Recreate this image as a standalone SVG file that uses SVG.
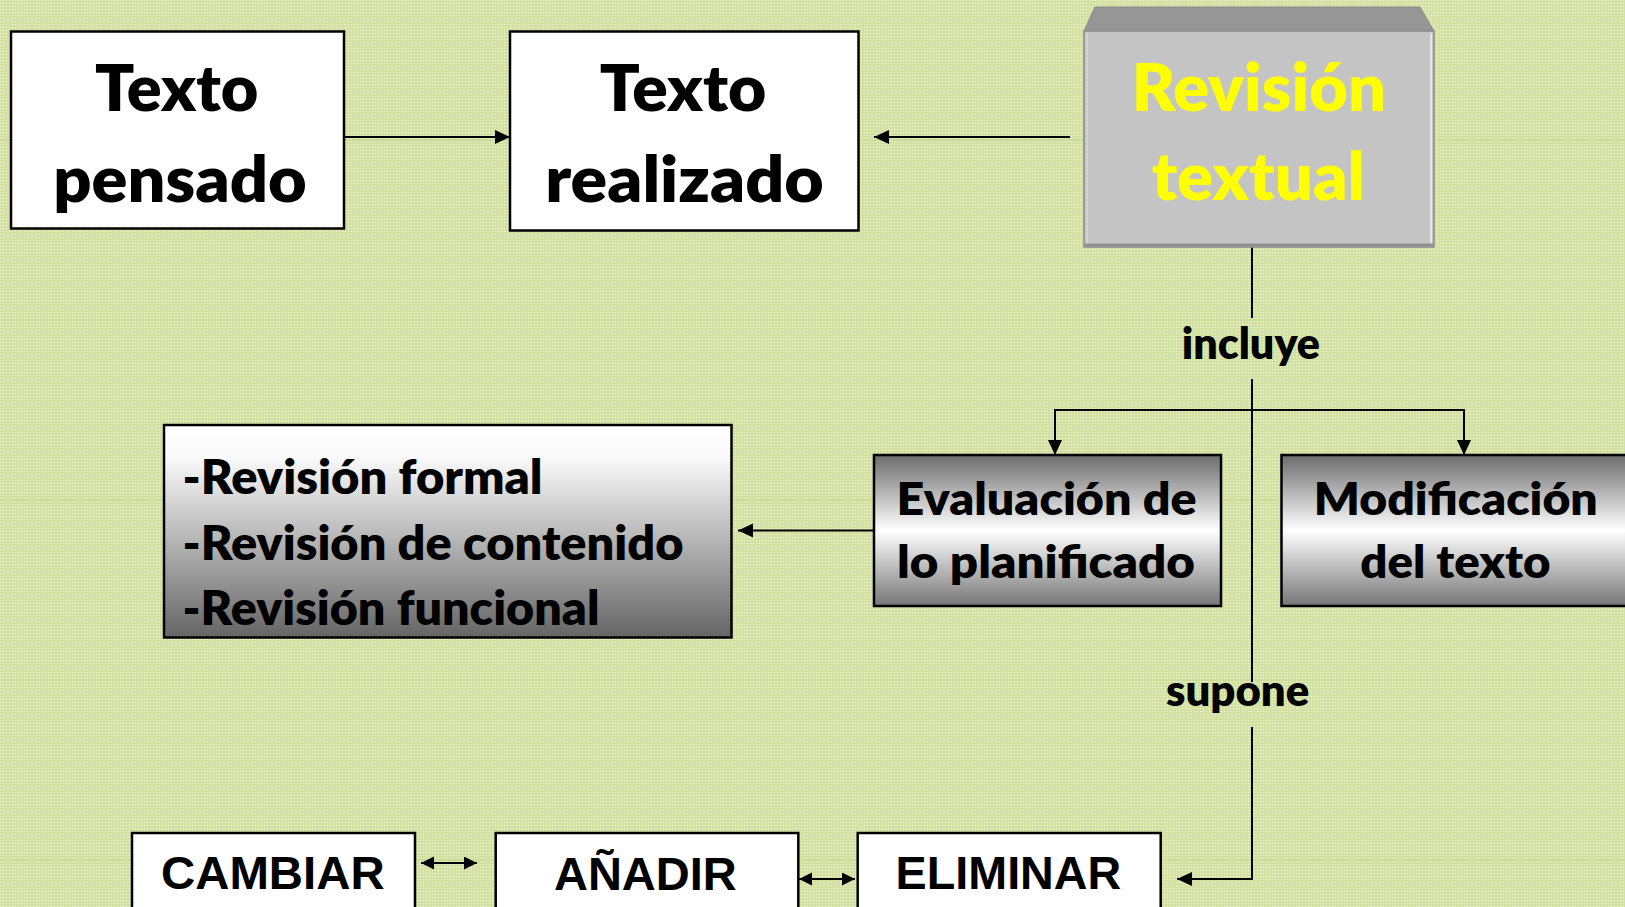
<svg xmlns="http://www.w3.org/2000/svg" width="1625" height="907" viewBox="0 0 1625 907">
<style>
.bx{fill:#ffffff;stroke:#000;stroke-width:2.5}
.t{font-family:Lato,"Open Sans",sans-serif;font-weight:800;fill:#000}
.ta{font-family:"Liberation Sans",Arial,sans-serif;font-weight:bold;fill:#000}
.c{fill:none;stroke:#000;stroke-width:2}
.bg-line{stroke:#c3d88c;stroke-width:1.2}
</style>
<defs>
<pattern id="dots" width="3" height="3" patternUnits="userSpaceOnUse">
<rect width="3" height="3" fill="#d3e1a3"/>
<rect width="1" height="1" fill="#f2f6e2"/>
</pattern>
<linearGradient id="gEval" x1="0" y1="0" x2="0" y2="1">
<stop offset="0" stop-color="#6c6c6c"/>
<stop offset="0.5" stop-color="#ffffff"/>
<stop offset="1" stop-color="#767676"/>
</linearGradient>
<linearGradient id="gList" x1="0" y1="0" x2="0" y2="1">
<stop offset="0" stop-color="#ffffff"/>
<stop offset="0.15" stop-color="#fafafa"/>
<stop offset="1" stop-color="#656565"/>
</linearGradient>
<marker id="ah" markerUnits="userSpaceOnUse" markerWidth="16" markerHeight="16" refX="15" refY="7" orient="auto">
<path d="M0,0 L15,7 L0,14 z" fill="#000"/>
</marker>
<marker id="ah2" markerUnits="userSpaceOnUse" markerWidth="14" markerHeight="14" refX="13" refY="6.5" orient="auto-start-reverse">
<path d="M0,0 L13,6.5 L0,13 z" fill="#000"/>
</marker>
</defs>

<rect width="1625" height="907" fill="url(#dots)"/>
<g id="background-lines">
<line class="bg-line" x1="0" y1="140" x2="1625" y2="140"/>
<line class="bg-line" x1="0" y1="320" x2="1625" y2="320"/>
<line class="bg-line" x1="0" y1="500" x2="1625" y2="500"/>
<line class="bg-line" x1="0" y1="680" x2="1625" y2="680"/>
<line class="bg-line" x1="0" y1="860" x2="1625" y2="860"/>
</g>

<g id="connectors">
<line class="c" x1="344" y1="137" x2="510" y2="137" marker-end="url(#ah)"/>
<line class="c" x1="1070" y1="137" x2="874" y2="137" marker-end="url(#ah)"/>
<line class="c" x1="1252" y1="247" x2="1252" y2="318"/>
<line class="c" x1="1252" y1="379" x2="1252" y2="682"/>
<path class="c" d="M1252,410 H1055 V455" marker-end="url(#ah)"/>
<path class="c" d="M1252,410 H1464 V455" marker-end="url(#ah)"/>
<line class="c" x1="874" y1="530.5" x2="738" y2="530.5" marker-end="url(#ah)"/>
<polyline class="c" points="1252,727 1252,879 1177,879" marker-end="url(#ah)"/>
<line class="c" x1="421" y1="863" x2="477" y2="863" marker-start="url(#ah2)" marker-end="url(#ah2)"/>
<line class="c" x1="799" y1="879" x2="855" y2="879" marker-start="url(#ah2)" marker-end="url(#ah2)"/>
</g>

<g id="label-incluye"><text class="t" x="1181.7" y="359.3" font-size="44" textLength="138.3" lengthAdjust="spacingAndGlyphs">incluye</text></g>
<g id="label-supone"><text class="t" x="1166" y="706" font-size="44" textLength="143.3" lengthAdjust="spacingAndGlyphs">supone</text></g>

<g id="node-texto-pensado">
<rect class="bx" x="11" y="31.5" width="333" height="197"/>
<text class="t" x="95" y="111" font-size="65" textLength="163.5" lengthAdjust="spacingAndGlyphs">Texto</text>
<text class="t" x="53.3" y="201.7" font-size="65" textLength="253.4" lengthAdjust="spacingAndGlyphs">pensado</text>
</g>

<g id="node-texto-realizado">
<rect class="bx" x="510" y="31.5" width="348.5" height="199"/>
<text class="t" x="599.8" y="111" font-size="65" textLength="166.5" lengthAdjust="spacingAndGlyphs">Texto</text>
<text class="t" x="545.3" y="201.7" font-size="65" textLength="278.4" lengthAdjust="spacingAndGlyphs">realizado</text>
</g>

<g id="node-revision-textual">
<polygon points="1095,7 1420,7 1434,31 1084,31" fill="#969696" stroke="#8a8a8a" stroke-width="1"/>
<rect x="1084" y="31" width="350" height="216" fill="#c4c4c4" stroke="#8a8a8a" stroke-width="1.5"/>
<line x1="1087" y1="33" x2="1087" y2="244" stroke="#d2d2d2" stroke-width="2"/>
<line x1="1431" y1="33" x2="1431" y2="244" stroke="#e4e4e4" stroke-width="2"/>
<line x1="1085" y1="245" x2="1433" y2="245" stroke="#8f8f8f" stroke-width="3"/>
<text class="t" x="1131.7" y="110.7" font-size="66" style="fill:#ffff00" textLength="254.3" lengthAdjust="spacingAndGlyphs">Revisión</text>
<text class="t" x="1151.7" y="200" font-size="66" style="fill:#ffff00" textLength="213.3" lengthAdjust="spacingAndGlyphs">textual</text>
</g>

<g id="node-tipos-revision">
<rect x="164" y="425" width="567.5" height="212.5" fill="url(#gList)" stroke="#000" stroke-width="2.5"/>
<text class="t" x="182.5" y="494" font-size="47" textLength="360" lengthAdjust="spacingAndGlyphs">-Revisión formal</text>
<text class="t" x="182.5" y="560" font-size="47" textLength="501" lengthAdjust="spacingAndGlyphs">-Revisión de contenido</text>
<text class="t" x="182.5" y="625" font-size="47" textLength="417" lengthAdjust="spacingAndGlyphs">-Revisión funcional</text>
</g>

<g id="node-evaluacion">
<rect x="874" y="455" width="347" height="151" fill="url(#gEval)" stroke="#000" stroke-width="2.5"/>
<text class="t" x="896.6" y="515" font-size="46" textLength="300" lengthAdjust="spacingAndGlyphs">Evaluación de</text>
<text class="t" x="897" y="578" font-size="46" textLength="298" lengthAdjust="spacingAndGlyphs">lo planificado</text>
</g>

<g id="node-modificacion">
<rect x="1281.5" y="455" width="350" height="151" fill="url(#gEval)" stroke="#000" stroke-width="2.5"/>
<text class="t" x="1313.8" y="515" font-size="46" textLength="284" lengthAdjust="spacingAndGlyphs">Modificación</text>
<text class="t" x="1360.2" y="578" font-size="46" textLength="190.3" lengthAdjust="spacingAndGlyphs">del texto</text>
</g>

<g id="node-cambiar">
<rect class="bx" x="132" y="833" width="283" height="90"/>
<text class="ta" x="161" y="889" font-size="47" textLength="223.6" lengthAdjust="spacingAndGlyphs">CAMBIAR</text>
</g>

<g id="node-anadir">
<rect class="bx" x="495.7" y="833" width="302.6" height="90"/>
<text class="ta" x="554" y="890" font-size="47" textLength="182.7" lengthAdjust="spacingAndGlyphs">AÑADIR</text>
</g>

<g id="node-eliminar">
<rect class="bx" x="857.7" y="833" width="303" height="90"/>
<text class="ta" x="895.6" y="889" font-size="47" textLength="225.7" lengthAdjust="spacingAndGlyphs">ELIMINAR</text>
</g>
</svg>
